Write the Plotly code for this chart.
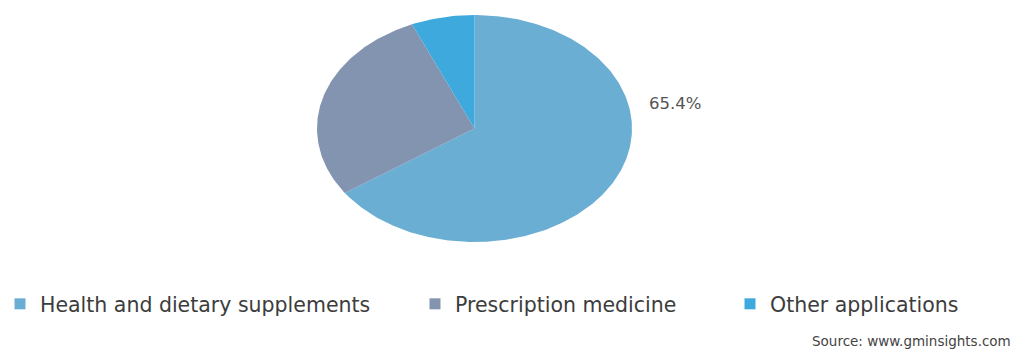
import numpy as np
import plotly.graph_objects as go

# Market share by application (%)
categories = ["Health and dietary supplements", "Prescription medicine", "Other applications"]
shares = [65.4, 28.1, 6.5]
colors = ["#6aaed3", "#8394b0", "#3ea9dd"]
label_text = f"{shares[0]:.1f}%"
source_text = "Source: www.gminsights.com"

W, H = 1014, 349
FONT = "DejaVu Sans"

fig = go.Figure()

# Slices of a unit pie, drawn clockwise from 12 o'clock; the axis domains
# stretch it into the wide ellipse.
total = sum(shares)
start = 0.0
for name, val, col in zip(categories, shares, colors):
    end = start + val / total
    t = np.linspace(start, end, max(int(400 * (end - start)), 8))
    ang = np.deg2rad(90 - 360 * t)
    xs = np.concatenate([[0.0], np.cos(ang), [0.0]])
    ys = np.concatenate([[0.0], np.sin(ang), [0.0]])
    fig.add_trace(go.Scatter(
        x=xs, y=ys, mode="lines", fill="toself", fillcolor=col,
        line=dict(width=0, color=col), hoverinfo="name", name=name,
        showlegend=False,
    ))
    start = end

# Legend entries, each in its own horizontal legend
legend_x = [0.0, 415 / W, 730 / W]
for i, (name, col) in enumerate(zip(categories, colors)):
    key = "legend" if i == 0 else f"legend{i + 1}"
    fig.add_trace(go.Scatter(
        x=[None], y=[None], mode="markers", name=name,
        marker=dict(symbol="square", size=11, color=col),
        legend=key, showlegend=True,
    ))

legend_common = dict(
    orientation="h", yanchor="middle", xanchor="left", y=(H - 304) / H,
    bgcolor="rgba(0,0,0,0)", font=dict(family=FONT, size=20.5, color="#3c3c3c"),
    itemwidth=30, tracegroupgap=0,
)
fig.update_layout(
    legend=dict(x=legend_x[0], **legend_common),
    legend2=dict(x=legend_x[1], **legend_common),
    legend3=dict(x=legend_x[2], **legend_common),
)

fig.update_layout(
    width=W, height=H,
    margin=dict(l=0, r=0, t=0, b=0),
    paper_bgcolor="white", plot_bgcolor="white",
    xaxis=dict(visible=False, range=[-1, 1], domain=[317 / W, 632 / W], fixedrange=True),
    yaxis=dict(visible=False, range=[-1, 1], domain=[(H - 242) / H, (H - 15) / H], fixedrange=True),
    annotations=[
        dict(text=label_text, xref="paper", yref="paper", x=647 / W, y=(H - 104) / H,
             xanchor="left", yanchor="middle", showarrow=False,
             font=dict(family=FONT, size=16.5, color="#555555")),
        dict(text=source_text, xref="paper", yref="paper", x=1013 / W, y=(H - 341) / H,
             xanchor="right", yanchor="middle", showarrow=False,
             font=dict(family=FONT, size=13.5, color="#444444")),
    ],
)

fig.write_html("out.html")
